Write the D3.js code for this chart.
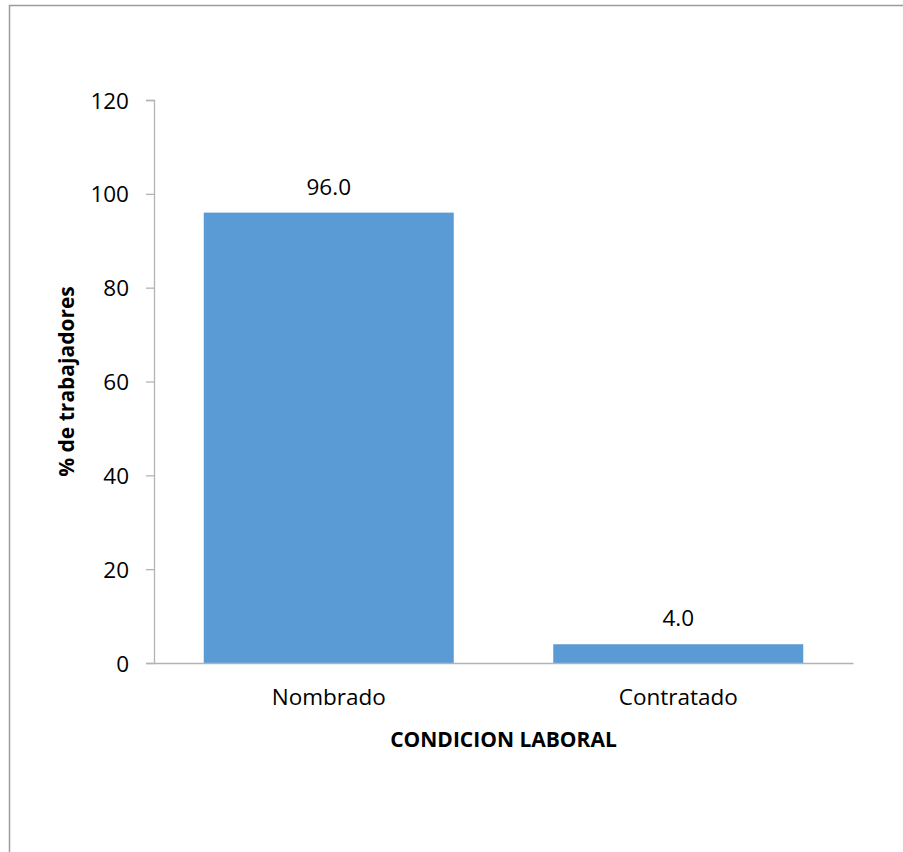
<!DOCTYPE html>
<html>
<head>
<meta charset="utf-8">
<script src="https://cdn.jsdelivr.net/npm/d3@7"></script>
<style>
  html, body { margin: 0; padding: 0; background: #ffffff; }
  svg { display: block; }
</style>
</head>
<body>
<svg id="chart" width="903" height="852"></svg>
<script>
// Condición laboral de los trabajadores (%)
const categories = ["Nombrado", "Contratado"];
const values = [96.0, 4.0];
const yTicks = [0, 20, 40, 60, 80, 100, 120];
const yTitle = "% de trabajadores";
const xTitle = "CONDICION LABORAL";

const svg = d3.select("#chart");
const W = 903, H = 852;
const font = "'Open Sans', 'Noto Sans', sans-serif";

// outer frame (only left and top edges fall inside the view)
svg.append("rect")
  .attr("x", 9.5).attr("y", 5.5)
  .attr("width", 1000).attr("height", 1000)
  .attr("fill", "#ffffff")
  .attr("stroke", "#9d9d9d")
  .attr("stroke-width", 1.5);

const plot = { left: 154, right: 853, top: 100, bottom: 663 };

const x = d3.scaleBand()
  .domain(categories)
  .range([plot.left, plot.right])
  .paddingInner(0.2847)
  .paddingOuter(0.14235);

const y = d3.scaleLinear()
  .domain([0, 120])
  .range([plot.bottom, plot.top]);

// bars
svg.append("g")
  .selectAll("rect")
  .data(categories)
  .join("rect")
  .attr("x", d => x(d))
  .attr("y", (d, i) => y(values[i]))
  .attr("width", x.bandwidth())
  .attr("height", (d, i) => y(0) - y(values[i]))
  .attr("fill", "#5b9bd5");

// y axis
const yAxis = svg.append("g")
  .attr("transform", `translate(${plot.left},0)`)
  .call(d3.axisLeft(y).tickValues(yTicks).tickSize(8).tickPadding(17).tickFormat(d3.format("d")));
yAxis.select(".domain").attr("stroke", "#b3b3b3").attr("stroke-width", 1.3);
yAxis.selectAll(".tick line").attr("stroke", "#b3b3b3").attr("stroke-width", 1.3);
yAxis.selectAll(".tick text")
  .attr("fill", "#000")
  .style("font-family", font)
  .style("font-size", "22.5px")
  .attr("dy", "0.36em");

// x axis
const xAxis = svg.append("g")
  .attr("transform", `translate(0,${plot.bottom})`)
  .call(d3.axisBottom(x).tickSize(0).tickPadding(0));
xAxis.select(".domain").attr("stroke", "#b3b3b3").attr("stroke-width", 1.3);
xAxis.selectAll(".tick text")
  .attr("fill", "#000")
  .attr("y", 42)
  .attr("dy", 0)
  .style("font-family", font)
  .style("font-size", "22.5px");

// value labels
svg.append("g")
  .selectAll("text")
  .data(categories)
  .join("text")
  .attr("x", d => x(d) + x.bandwidth() / 2)
  .attr("y", (d, i) => y(values[i]) - 18)
  .attr("text-anchor", "middle")
  .style("font-family", font)
  .style("font-size", "22.5px")
  .attr("fill", "#000")
  .text((d, i) => d3.format(".1f")(values[i]));

// axis titles
svg.append("text")
  .attr("x", (plot.left + plot.right) / 2)
  .attr("y", 747)
  .attr("text-anchor", "middle")
  .style("font-family", font)
  .style("font-size", "21px")
  .style("font-weight", "bold")
  .attr("fill", "#000")
  .text(xTitle);

svg.append("text")
  .attr("transform", `translate(74,${(plot.top + plot.bottom) / 2}) rotate(-90)`)
  .attr("text-anchor", "middle")
  .style("font-family", font)
  .style("font-size", "21px")
  .style("font-weight", "bold")
  .attr("fill", "#000")
  .text(yTitle);
</script>
</body>
</html>
